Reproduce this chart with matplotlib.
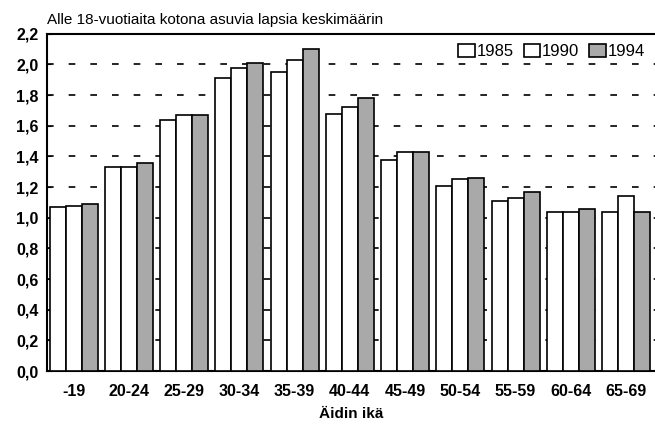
import matplotlib
matplotlib.use('Agg')
import matplotlib.pyplot as plt
import numpy as np

age_groups = ['-19', '20-24', '25-29', '30-34', '35-39', '40-44',
              '45-49', '50-54', '55-59', '60-64', '65-69']
y1985 = [1.07, 1.33, 1.64, 1.91, 1.95, 1.68, 1.38, 1.21, 1.11, 1.04, 1.04]
y1990 = [1.08, 1.33, 1.67, 1.98, 2.03, 1.72, 1.43, 1.25, 1.13, 1.04, 1.14]
y1994 = [1.09, 1.36, 1.67, 2.01, 2.10, 1.78, 1.43, 1.26, 1.17, 1.06, 1.04]
years = ['1985', '1990', '1994']

plt.rcParams['font.family'] = ['Liberation Sans', 'DejaVu Sans']

fig = plt.figure(figsize=(6.55, 4.28), dpi=100)
ax = fig.add_axes([0.0718, 0.133, 0.928, 0.788])

x = np.arange(len(age_groups))
w = 0.29
ax.bar(x - w, y1985, w, color='white', edgecolor='black', linewidth=1.2, label=years[0], zorder=3)
ax.bar(x, y1990, w, color='white', edgecolor='black', linewidth=1.2, label=years[1], zorder=3)
ax.bar(x + w, y1994, w, color='#a9a9a9', edgecolor='black', linewidth=1.2, label=years[2], zorder=3)

ax.set_xlim(-0.48, 10.52)
ax.set_ylim(0, 2.2)
ax.set_yticks(np.arange(0, 2.21, 0.2))
ax.set_yticklabels([f'{v:.1f}'.replace('.', ',') for v in np.arange(0, 2.21, 0.2)],
                   fontsize=11.5, fontweight='bold')
ax.set_xticks(x)
ax.set_xticklabels(age_groups, fontsize=11.5, fontweight='bold')
ax.tick_params(axis='x', length=0, pad=9)
ax.tick_params(axis='y', length=3, direction='in', pad=6)

ax.yaxis.grid(True, linestyle=(0, (4, 9)), color='black', linewidth=1.2, zorder=0)
ax.set_axisbelow(True)

for s in ['left', 'top', 'bottom']:
    ax.spines[s].set_linewidth(1.5)
ax.spines['right'].set_visible(False)

ax.set_xlabel('Äidin ikä', fontsize=11, fontweight='bold', labelpad=6)
ax.text(0, 1.02, 'Alle 18-vuotiaita kotona asuvia lapsia keskimäärin',
        transform=ax.transAxes, fontsize=11, ha='left', va='bottom')

leg = ax.legend(loc='upper right', ncol=3, frameon=False, fontsize=12,
                handlelength=1.0, handleheight=0.8, handletextpad=0.1,
                columnspacing=0.6, borderaxespad=0.2, bbox_to_anchor=(1.0, 1.0))

fig.savefig('out.png', dpi=100)
